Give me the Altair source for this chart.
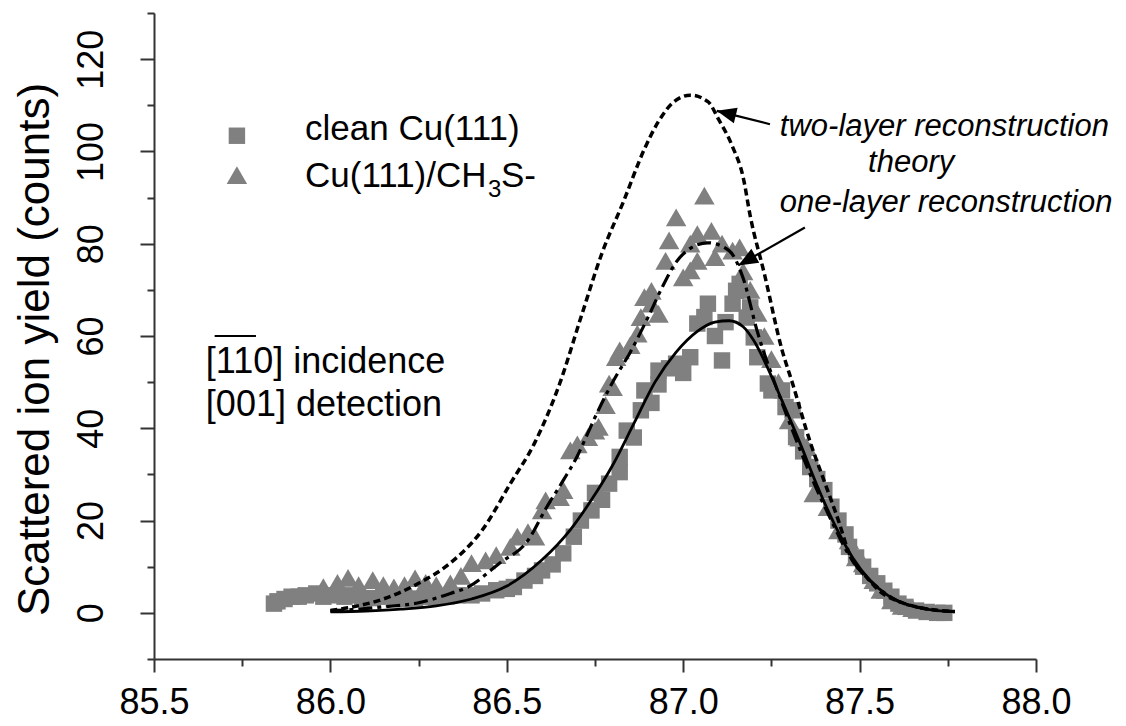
import altair as alt
import pandas as pd

# ---------------- data ----------------
# clean Cu(111)  (grey squares)
clean_x = [85.84, 85.85, 85.87, 85.89, 85.91, 85.93, 85.96, 85.98, 86.01, 86.04,
           86.06, 86.09, 86.12, 86.15, 86.18, 86.21, 86.24, 86.27, 86.30, 86.33,
           86.36, 86.40, 86.43, 86.47, 86.50, 86.52, 86.55, 86.58, 86.60, 86.63,
           86.66, 86.69, 86.71, 86.74, 86.75, 86.77, 86.79, 86.82, 86.82, 86.84,
           86.86, 86.88, 86.89, 86.91, 86.93, 86.93, 86.96, 86.98, 87.00, 87.02,
           87.04, 87.06, 87.07, 87.09, 87.11, 87.12, 87.14, 87.15, 87.16, 87.18,
           87.19, 87.20, 87.21, 87.24, 87.25, 87.28, 87.29, 87.31, 87.32, 87.34,
           87.36, 87.38, 87.40, 87.42, 87.44, 87.46, 87.47, 87.49, 87.51, 87.53,
           87.55, 87.57, 87.59, 87.61, 87.63, 87.66, 87.69, 87.72, 87.74]
clean_y = [2.0, 2.5, 3.0, 3.5, 3.5, 3.8, 4.2, 3.5, 3.8, 3.5,
           3.8, 3.0, 3.2, 3.5, 3.0, 3.0, 3.1, 3.5, 3.4, 3.6,
           3.8, 3.8, 4.2, 4.9, 5.2, 5.6, 7.0, 8.0, 9.2, 10.5,
           12.9, 16.5, 20.0, 22.2, 26.0, 24.5, 28.0, 30.5, 33.8, 39.5,
           38.0, 43.9, 48.2, 45.5, 49.5, 52.5, 53.0, 54.0, 52.0, 55.4,
           62.7, 64.1, 67.0, 60.0, 54.7, 63.0, 67.0, 69.8, 71.3, 64.0,
           66.2, 59.7, 55.4, 49.7, 48.2, 48.2, 44.6, 43.9, 38.1, 35.0,
           31.6, 29.0, 26.6, 23.0, 20.0, 17.0, 14.3, 12.0, 10.0, 8.0,
           6.4, 4.8, 3.5, 2.0, 1.3, 0.5, 0.2, 0.0, 0.0]

# Cu(111)/CH3S-  (grey triangles)
ch3s_x = [85.98, 86.02, 86.05, 86.08, 86.12, 86.15, 86.18, 86.21, 86.24, 86.27,
          86.30, 86.34, 86.37, 86.40, 86.44, 86.47, 86.51, 86.53, 86.56, 86.58,
          86.60, 86.61, 86.65, 86.66, 86.68, 86.70, 86.73, 86.75, 86.76, 86.78,
          86.79, 86.80, 86.81, 86.82, 86.85, 86.87, 86.88, 86.89, 86.91, 86.91,
          86.93, 86.95, 86.96, 86.98, 87.00, 87.02, 87.02, 87.04, 87.04, 87.06,
          87.08, 87.09, 87.11, 87.14, 87.16, 87.17, 87.19, 87.21, 87.23, 87.25,
          87.27, 87.30, 87.33, 87.35, 87.37, 87.39, 87.41, 87.44, 87.47, 87.49,
          87.51, 87.54, 87.56, 87.59, 87.62, 87.65]
ch3s_y = [5.6, 6.5, 7.6, 6.0, 7.1, 6.0, 5.5, 6.0, 7.5, 6.5,
          6.0, 6.4, 8.0, 10.8, 11.4, 12.5, 14.3, 16.5, 17.5, 16.5,
          22.2, 24.4, 25.1, 26.6, 35.2, 36.5, 38.1, 39.5, 40.3, 45.0,
          49.7, 48.9, 55.4, 56.9, 58.0, 60.5, 64.1, 68.4, 69.8, 67.0,
          64.8, 76.3, 80.7, 85.7, 72.7, 74.2, 80.0, 76.3, 82.1, 90.4,
          82.8, 77.1, 80.0, 78.5, 79.2, 74.0, 70.0, 65.0, 60.0, 55.0,
          50.0, 41.7, 38.0, 35.9, 25.9, 28.0, 22.9, 17.9, 15.7, 12.0,
          10.7, 7.1, 5.0, 2.7, 1.5, 1.0]

# theory: two-layer reconstruction (dotted)
two_x = [86.00, 86.05, 86.15, 86.25, 86.34, 86.43, 86.51, 86.58, 86.65, 86.71,
         86.77, 86.83, 86.89, 86.93, 86.97, 87.02, 87.07, 87.10, 87.14, 87.17,
         87.19, 87.23, 87.28, 87.31, 87.36, 87.40, 87.44, 87.47, 87.52, 87.56,
         87.61, 87.68, 87.77]
two_y = [0.5, 1.1, 3.0, 6.4, 10.8, 17.9, 28.0, 37.0, 49.7, 64.0,
         78.0, 89.0, 100.5, 106.5, 110.5, 112.2, 110.8, 107.0, 101.0, 94.4,
         86.0, 73.5, 57.0, 49.7, 37.0, 28.5, 20.0, 13.0, 7.7, 4.5,
         2.5, 1.0, 0.3]

# theory: one-layer reconstruction (dash-dot)
one_x = [86.00, 86.06, 86.15, 86.25, 86.34, 86.39, 86.48, 86.56, 86.61, 86.66,
         86.70, 86.73, 86.76, 86.80, 86.85, 86.90, 86.94, 86.98, 87.02, 87.07,
         87.13, 87.17, 87.21, 87.26, 87.30, 87.36, 87.42, 87.47, 87.55, 87.61,
         87.68, 87.77]
one_y = [0.5, 0.7, 1.3, 2.2, 4.2, 5.6, 10.8, 15.7, 22.5, 28.7,
         34.0, 39.0, 44.0, 50.0, 56.5, 64.0, 70.5, 76.0, 79.0, 80.2,
         78.5, 72.5, 61.0, 49.7, 41.5, 30.0, 20.0, 12.5, 5.6, 2.5,
         1.0, 0.3]

# theory (solid)
th_x = [86.00, 86.10, 86.20, 86.30, 86.40, 86.50, 86.60, 86.68, 86.74, 86.80,
        86.86, 86.92, 86.98, 87.04, 87.09, 87.13, 87.17, 87.20, 87.24, 87.28,
        87.33, 87.38, 87.43, 87.48, 87.53, 87.58, 87.64, 87.70, 87.77]
th_y = [0.2, 0.4, 0.8, 1.5, 3.0, 5.8, 11.5, 18.0, 24.5, 32.0,
        41.0, 50.0, 56.5, 61.0, 63.0, 63.3, 62.0, 59.0, 53.0, 46.0,
        37.0, 27.5, 19.0, 12.0, 7.0, 3.8, 1.7, 0.7, 0.2]

# axis ticks
x_ticks = [85.5, 85.75, 86.0, 86.25, 86.5, 86.75, 87.0, 87.25, 87.5, 87.75, 88.0]
y_ticks = [-10, 0, 10, 20, 30, 40, 50, 60, 70, 80, 90, 100, 110, 120, 130]

# legend / annotation anchors (data coordinates)
legend_sym_x = [85.735, 85.735]
legend_sym_y = [103.4, 94.85]
legend_sym_shape = ["square", "triangle-up"]
legend_txt_x = 85.928
legend_txt_y = [102.4, 92.25]

note_x = 85.647
note_y = [51.9, 42.6]
note_text = ["[110] incidence", "[001] detection"]
overline_x = [85.672, 85.789]
overline_y = 60.0

theory_text = ["two-layer reconstruction", "theory", "one-layer reconstruction"]
theory_tx = [87.274, 87.524, 87.274]
theory_ty = [103.4, 95.5, 86.8]

arrow_start_x = [87.246, 87.345]
arrow_start_y = [105.9, 83.5]
arrow_tip_x = [87.095, 87.156]
arrow_tip_y = [108.8, 75.3]
arrow_angle = [283.7, 240.5]

# ---------------- chart ----------------
FONT = "Liberation Sans"
GREY = "#808080"
AX = "#333333"

xs = alt.Scale(domain=[85.5, 88.0], nice=False, zero=False)
ys = alt.Scale(domain=[-10, 130], nice=False, zero=False)

x_axis = alt.Axis(
    values=x_ticks, format=".1f", title=None,
    labelExpr="abs(datum.value*2 - round(datum.value*2)) < 0.001 ? format(datum.value, '.1f') : ''",
    tickSize={"condition": {"test": "abs(datum.value*2 - round(datum.value*2)) < 0.001", "value": 13}, "value": 7},
    labelFontSize=36, labelFont=FONT, labelColor="black", labelPadding=13,
    labelBaseline="top", labelFlush=False,
    domainColor=AX, domainWidth=2, tickColor=AX, tickWidth=2, grid=False,
)
y_axis = alt.Axis(
    values=y_ticks, format="d",
    labelExpr="datum.value % 20 === 0 ? datum.label : ''",
    tickSize={"condition": {"test": "datum.value % 20 === 0", "value": 14}, "value": 7},
    labelFontSize=36, labelFont=FONT, labelColor="black", labelAngle=270,
    labelAlign="center", labelBaseline="alphabetic", labelPadding=38,
    title="Scattered ion yield (counts)", titleFontSize=44, titleFont=FONT,
    titleFontWeight="normal", titleColor="black", titleAngle=270,
    titleAlign="center", titleBaseline="alphabetic", titleX=-106, titleY=336,
    domainColor=AX, domainWidth=2, tickColor=AX, tickWidth=2, grid=False,
)

def X(field):
    return alt.X(field, type="quantitative", scale=xs, axis=x_axis)

def Y(field):
    return alt.Y(field, type="quantitative", scale=ys, axis=y_axis)

clean_df = pd.DataFrame({"x": clean_x, "y": clean_y})
ch3s_df = pd.DataFrame({"x": ch3s_x, "y": ch3s_y})

squares = alt.Chart(clean_df).mark_point(
    shape="square", filled=True, size=270, color=GREY, opacity=1
).encode(x=X("x"), y=Y("y"))

triangles = alt.Chart(ch3s_df).mark_point(
    shape="triangle-up", filled=True, size=420, color=GREY, opacity=1
).encode(x=X("x"), y=Y("y"))

def curve(xv, yv, dash, width):
    df = pd.DataFrame({"x": xv, "y": yv, "o": list(range(len(xv)))})
    kw = dict(color="black", strokeWidth=width, interpolate="monotone")
    if dash:
        kw["strokeDash"] = dash
    return alt.Chart(df).mark_line(**kw).encode(x=X("x"), y=Y("y"), order="o:Q")

two_line = curve(two_x, two_y, [7, 4], 3.5)
one_line = curve(one_x, one_y, [14, 5, 4, 5], 3.2)
th_line = curve(th_x, th_y, None, 2.8)

# legend symbols
leg_sym_df = pd.DataFrame({"x": legend_sym_x, "y": legend_sym_y, "s": legend_sym_shape})
leg_syms = alt.Chart(leg_sym_df).mark_point(filled=True, color=GREY, opacity=1, size=300).encode(
    x=X("x"), y=Y("y"),
    shape=alt.Shape("s:N", scale=alt.Scale(domain=legend_sym_shape, range=legend_sym_shape), legend=None),
    size=alt.Size("s:N", scale=alt.Scale(domain=legend_sym_shape, range=[270, 420]), legend=None),
)

def text_layer(xv, yv, txt, size, style="normal", dx=0, dy=0):
    df = pd.DataFrame({"x": xv, "y": yv, "t": txt})
    return alt.Chart(df).mark_text(
        align="left", baseline="alphabetic", font=FONT, fontSize=size,
        fontStyle=style, color="black", dx=dx, dy=dy
    ).encode(x=X("x"), y=Y("y"), text="t:N")

leg_t1 = text_layer([legend_txt_x], [legend_txt_y[0]], ["clean Cu(111)"], 35)
leg_t2 = text_layer([legend_txt_x], [legend_txt_y[1]], ["Cu(111)/CH"], 35)
leg_t3 = text_layer([legend_txt_x], [legend_txt_y[1]], ["3"], 24, dx=183, dy=10)
leg_t4 = text_layer([legend_txt_x], [legend_txt_y[1]], ["S-"], 35, dx=196)

notes = text_layer([note_x, note_x], note_y, note_text, 36)
over_df = pd.DataFrame({"x": [overline_x[0]], "x2": [overline_x[1]], "y": [overline_y]})
overline = alt.Chart(over_df).mark_rule(color="black", strokeWidth=2).encode(
    x=X("x"), x2="x2", y=Y("y"))

theory = text_layer(theory_tx, theory_ty, theory_text, 31, style="italic")

arr_df = pd.DataFrame({"x": arrow_start_x, "y": arrow_start_y,
                       "x2": arrow_tip_x, "y2": arrow_tip_y, "a": arrow_angle})
shafts = alt.Chart(arr_df).mark_rule(color="black", strokeWidth=2.2).encode(
    x=X("x"), y=Y("y"), x2="x2", y2="y2")
heads = alt.Chart(arr_df).mark_point(
    shape="M0,0 L-0.65,1.6 L0.65,1.6 Z", filled=True, color="black", opacity=1, size=600
).encode(x=X("x2"), y=Y("y2"), angle=alt.Angle("a:Q", scale=None))

chart = alt.layer(
    squares, triangles, th_line, one_line, two_line,
    leg_syms, leg_t1, leg_t2, leg_t3, leg_t4, notes, overline, theory, shafts, heads
).properties(
    width=882, height=646,
    padding={"left": 146, "top": 5, "right": 82, "bottom": 64},
    autosize=alt.AutoSizeParams(type="none"),
    background="white",
).configure_view(stroke=None)

chart.save("out.html", embed_options={"renderer": "svg", "actions": False})
